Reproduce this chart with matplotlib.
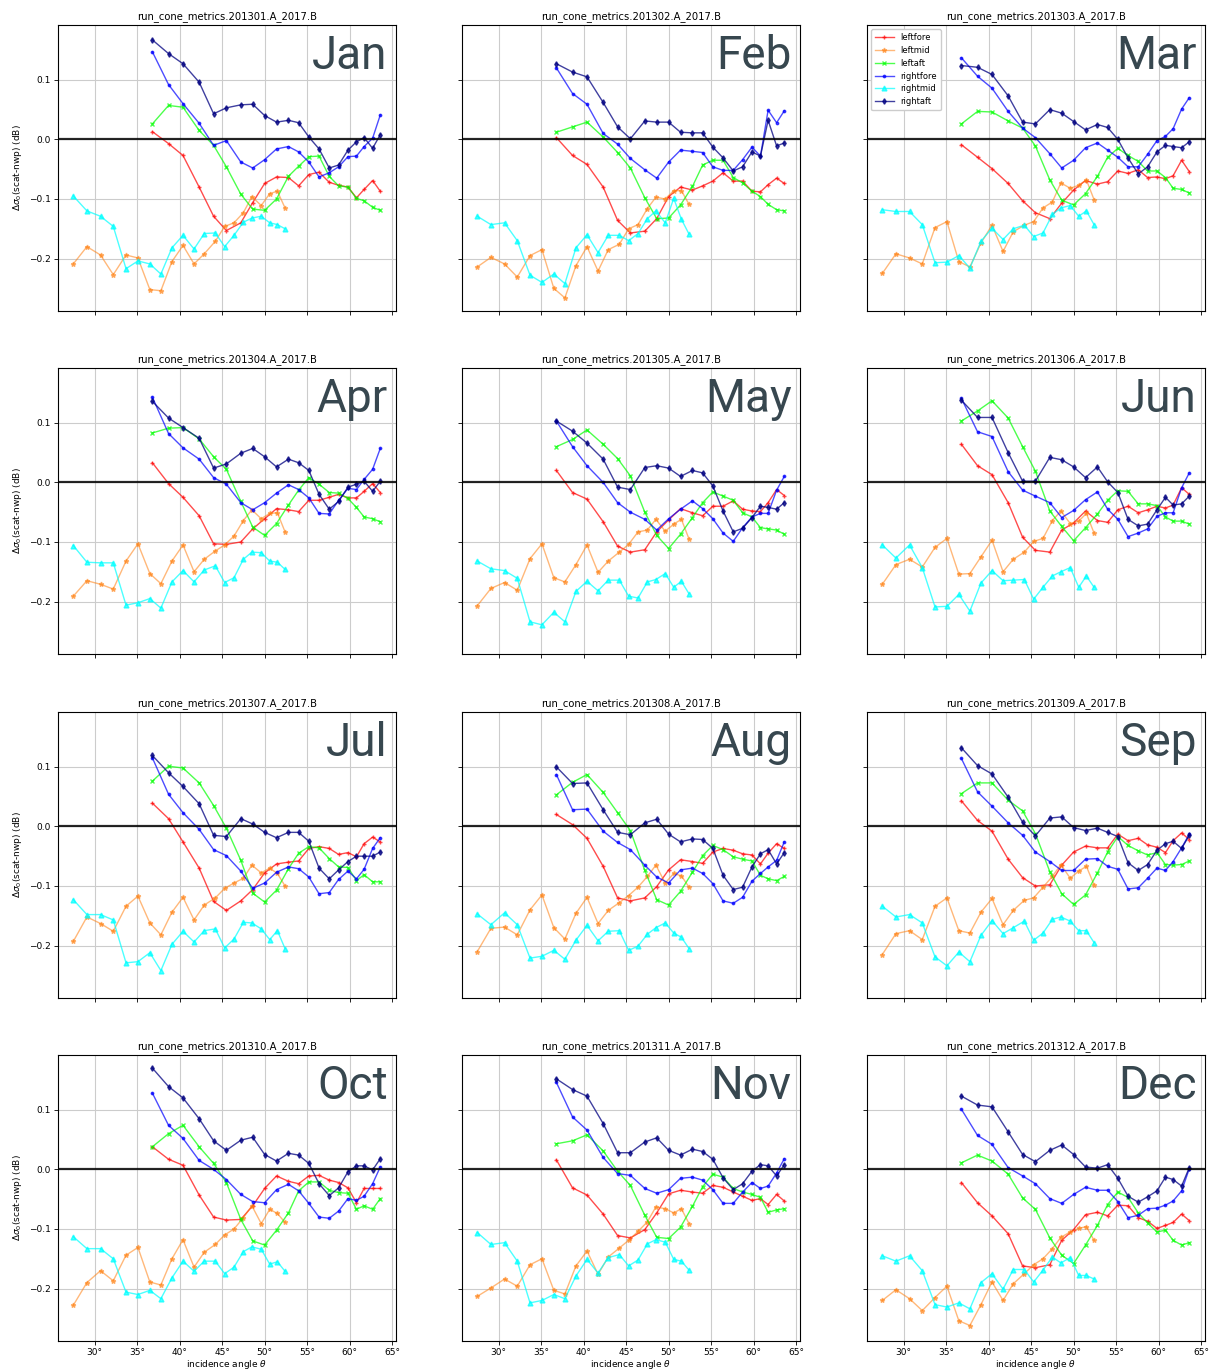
import matplotlib
matplotlib.use('Agg')
import matplotlib.pyplot as plt
from matplotlib.ticker import FuncFormatter

months = ['Jan', 'Feb', 'Mar', 'Apr', 'May', 'Jun',
          'Jul', 'Aug', 'Sep', 'Oct', 'Nov', 'Dec']
run_ids = ['201301', '201302', '201303', '201304', '201305', '201306',
           '201307', '201308', '201309', '201310', '201311', '201312']

# incidence angles of the cells (mid beams / fore-aft beams)
theta_mid = [27.5, 29.1, 30.7, 32.2, 33.7, 35.1, 36.5, 37.8, 39.1, 40.4, 41.7,
             42.9, 44.2, 45.3, 46.4, 47.5, 48.5, 49.6, 50.6, 51.5, 52.4]
theta_side = [36.8, 38.7, 40.4, 42.3, 44.0, 45.5, 47.2, 48.6, 50.0, 51.4, 52.8,
              54.0, 55.2, 56.4, 57.6, 58.7, 59.8, 60.8, 61.7, 62.7, 63.6]

leftfore = [
    [0.013, -0.007, -0.027, -0.080, -0.129, -0.153, -0.140, -0.106, -0.074, -0.063, -0.064, -0.078, -0.059, -0.055, -0.072, -0.077, -0.080, -0.098, -0.084, -0.069, -0.087],  # Jan
    [0.003, -0.027, -0.042, -0.080, -0.136, -0.157, -0.154, -0.133, -0.096, -0.080, -0.085, -0.078, -0.070, -0.056, -0.070, -0.070, -0.087, -0.088, -0.076, -0.065, -0.074],  # Feb
    [-0.009, -0.030, -0.049, -0.074, -0.103, -0.123, -0.133, -0.107, -0.085, -0.069, -0.075, -0.071, -0.053, -0.057, -0.051, -0.064, -0.063, -0.066, -0.061, -0.035, -0.054],  # Mar
    [0.033, -0.002, -0.025, -0.056, -0.103, -0.104, -0.100, -0.078, -0.061, -0.044, -0.046, -0.049, -0.030, -0.030, -0.025, -0.020, -0.026, -0.026, -0.015, -0.002, -0.017],  # Apr
    [0.020, -0.017, -0.028, -0.066, -0.107, -0.117, -0.113, -0.083, -0.063, -0.044, -0.051, -0.056, -0.040, -0.040, -0.031, -0.045, -0.048, -0.049, -0.034, -0.012, -0.022],  # May
    [0.064, 0.028, 0.013, -0.034, -0.092, -0.114, -0.117, -0.080, -0.068, -0.048, -0.064, -0.067, -0.046, -0.040, -0.051, -0.046, -0.040, -0.043, -0.038, -0.009, -0.020],  # Jun
    [0.039, 0.013, -0.026, -0.070, -0.126, -0.141, -0.125, -0.106, -0.078, -0.063, -0.060, -0.058, -0.037, -0.034, -0.037, -0.047, -0.044, -0.051, -0.029, -0.018, -0.026],  # Jul
    [0.020, 0.003, -0.020, -0.067, -0.120, -0.125, -0.120, -0.101, -0.073, -0.056, -0.059, -0.062, -0.043, -0.037, -0.040, -0.046, -0.048, -0.063, -0.045, -0.029, -0.037],  # Aug
    [0.043, 0.010, -0.008, -0.055, -0.086, -0.100, -0.098, -0.065, -0.043, -0.033, -0.036, -0.036, -0.013, -0.024, -0.020, -0.031, -0.035, -0.044, -0.024, -0.011, -0.022],  # Sep
    [0.038, 0.017, 0.007, -0.043, -0.080, -0.085, -0.084, -0.061, -0.032, -0.011, -0.020, -0.024, -0.011, -0.010, -0.018, -0.022, -0.031, -0.056, -0.032, -0.032, -0.032],  # Oct
    [0.016, -0.031, -0.043, -0.075, -0.111, -0.115, -0.101, -0.073, -0.041, -0.035, -0.038, -0.040, -0.027, -0.030, -0.038, -0.045, -0.052, -0.049, -0.059, -0.042, -0.053],  # Nov
    [-0.022, -0.056, -0.078, -0.108, -0.162, -0.165, -0.160, -0.119, -0.101, -0.076, -0.072, -0.078, -0.060, -0.061, -0.081, -0.087, -0.099, -0.094, -0.089, -0.075, -0.086],  # Dec
]

leftmid = [
    [-0.209, -0.180, -0.194, -0.227, -0.194, -0.199, -0.252, -0.254, -0.205, -0.178, -0.209, -0.192, -0.171, -0.146, -0.140, -0.123, -0.096, -0.111, -0.091, -0.087, -0.115],
    [-0.214, -0.198, -0.209, -0.231, -0.195, -0.185, -0.250, -0.266, -0.212, -0.180, -0.221, -0.185, -0.176, -0.150, -0.143, -0.116, -0.097, -0.100, -0.086, -0.086, -0.109],
    [-0.225, -0.192, -0.199, -0.209, -0.148, -0.138, -0.205, -0.214, -0.174, -0.144, -0.188, -0.155, -0.144, -0.138, -0.115, -0.105, -0.073, -0.082, -0.077, -0.068, -0.101],
    [-0.191, -0.165, -0.171, -0.179, -0.132, -0.103, -0.153, -0.170, -0.132, -0.105, -0.150, -0.129, -0.115, -0.105, -0.090, -0.064, -0.046, -0.061, -0.052, -0.051, -0.083],
    [-0.207, -0.178, -0.168, -0.181, -0.128, -0.103, -0.160, -0.167, -0.138, -0.105, -0.151, -0.132, -0.117, -0.104, -0.083, -0.080, -0.062, -0.082, -0.070, -0.062, -0.095],
    [-0.171, -0.138, -0.129, -0.142, -0.109, -0.094, -0.154, -0.153, -0.125, -0.097, -0.150, -0.129, -0.117, -0.099, -0.094, -0.064, -0.048, -0.069, -0.065, -0.052, -0.085],
    [-0.193, -0.152, -0.163, -0.176, -0.134, -0.117, -0.162, -0.182, -0.144, -0.119, -0.157, -0.132, -0.120, -0.104, -0.095, -0.087, -0.065, -0.078, -0.070, -0.079, -0.100],
    [-0.210, -0.171, -0.169, -0.182, -0.140, -0.115, -0.170, -0.189, -0.146, -0.119, -0.163, -0.141, -0.128, -0.116, -0.102, -0.084, -0.065, -0.095, -0.079, -0.083, -0.102],
    [-0.215, -0.180, -0.175, -0.190, -0.134, -0.120, -0.175, -0.179, -0.144, -0.121, -0.165, -0.141, -0.124, -0.120, -0.102, -0.084, -0.064, -0.087, -0.075, -0.067, -0.098],
    [-0.228, -0.190, -0.170, -0.187, -0.144, -0.131, -0.189, -0.194, -0.150, -0.118, -0.164, -0.139, -0.126, -0.110, -0.100, -0.081, -0.061, -0.091, -0.067, -0.074, -0.089],
    [-0.213, -0.199, -0.184, -0.196, -0.160, -0.150, -0.203, -0.209, -0.162, -0.137, -0.176, -0.147, -0.132, -0.119, -0.104, -0.088, -0.063, -0.066, -0.073, -0.066, -0.091],
    [-0.220, -0.202, -0.217, -0.237, -0.215, -0.196, -0.254, -0.262, -0.227, -0.189, -0.220, -0.192, -0.175, -0.160, -0.150, -0.133, -0.114, -0.105, -0.099, -0.096, -0.119],
]

leftaft = [
    [0.026, 0.057, 0.054, 0.015, -0.010, -0.046, -0.092, -0.117, -0.119, -0.100, -0.062, -0.045, -0.029, -0.028, -0.062, -0.078, -0.080, -0.099, -0.103, -0.114, -0.119],
    [0.012, 0.021, 0.029, 0.004, -0.022, -0.048, -0.098, -0.133, -0.132, -0.110, -0.079, -0.043, -0.035, -0.035, -0.064, -0.073, -0.087, -0.096, -0.109, -0.118, -0.120],
    [0.026, 0.047, 0.046, 0.031, 0.019, -0.011, -0.068, -0.102, -0.110, -0.091, -0.062, -0.030, -0.015, -0.027, -0.037, -0.053, -0.053, -0.064, -0.082, -0.084, -0.090],
    [0.083, 0.091, 0.092, 0.073, 0.043, 0.022, -0.032, -0.075, -0.089, -0.069, -0.038, -0.013, 0.008, -0.003, -0.017, -0.018, -0.027, -0.042, -0.058, -0.061, -0.066],
    [0.060, 0.072, 0.088, 0.064, 0.040, 0.011, -0.050, -0.089, -0.111, -0.087, -0.059, -0.034, -0.016, -0.023, -0.030, -0.051, -0.058, -0.076, -0.078, -0.080, -0.087],
    [0.103, 0.120, 0.137, 0.108, 0.060, 0.019, -0.048, -0.074, -0.098, -0.076, -0.053, -0.030, -0.014, -0.015, -0.036, -0.036, -0.039, -0.058, -0.065, -0.065, -0.070],
    [0.076, 0.101, 0.098, 0.073, 0.035, -0.003, -0.057, -0.112, -0.127, -0.107, -0.071, -0.045, -0.034, -0.036, -0.054, -0.068, -0.069, -0.091, -0.081, -0.093, -0.093],
    [0.053, 0.074, 0.087, 0.057, 0.023, -0.007, -0.074, -0.123, -0.132, -0.109, -0.077, -0.049, -0.032, -0.039, -0.051, -0.055, -0.058, -0.082, -0.088, -0.091, -0.084],
    [0.055, 0.073, 0.073, 0.044, 0.026, -0.012, -0.076, -0.113, -0.131, -0.115, -0.078, -0.043, -0.017, -0.032, -0.041, -0.048, -0.044, -0.064, -0.065, -0.064, -0.058],
    [0.038, 0.060, 0.074, 0.038, 0.010, -0.022, -0.084, -0.120, -0.127, -0.102, -0.073, -0.036, -0.021, -0.021, -0.035, -0.039, -0.040, -0.067, -0.061, -0.067, -0.049],
    [0.043, 0.048, 0.058, 0.031, -0.003, -0.027, -0.077, -0.114, -0.116, -0.097, -0.062, -0.029, -0.008, -0.013, -0.032, -0.038, -0.042, -0.047, -0.072, -0.068, -0.066],
    [0.011, 0.024, 0.014, -0.008, -0.048, -0.067, -0.115, -0.144, -0.158, -0.127, -0.094, -0.059, -0.038, -0.047, -0.073, -0.090, -0.105, -0.102, -0.119, -0.127, -0.123],
]

rightfore = [
    [0.147, 0.092, 0.060, 0.027, -0.010, -0.002, -0.038, -0.048, -0.034, -0.016, -0.012, -0.021, -0.038, -0.063, -0.056, -0.046, -0.029, -0.028, -0.012, 0.002, 0.041],
    [0.120, 0.077, 0.059, 0.010, -0.008, -0.032, -0.051, -0.065, -0.038, -0.018, -0.020, -0.022, -0.046, -0.052, -0.052, -0.034, -0.013, -0.028, 0.049, 0.028, 0.048],
    [0.137, 0.106, 0.086, 0.047, 0.019, 0.003, -0.024, -0.048, -0.035, -0.014, -0.006, -0.018, -0.030, -0.046, -0.046, -0.025, -0.002, 0.005, 0.018, 0.051, 0.070],
    [0.143, 0.082, 0.058, 0.039, 0.008, -0.003, -0.034, -0.046, -0.034, -0.018, -0.004, -0.012, -0.026, -0.052, -0.053, -0.030, -0.010, -0.012, 0.005, 0.022, 0.057],
    [0.103, 0.060, 0.028, 0.000, -0.034, -0.050, -0.062, -0.080, -0.061, -0.045, -0.031, -0.044, -0.061, -0.085, -0.099, -0.076, -0.058, -0.052, -0.052, -0.013, 0.010],
    [0.141, 0.085, 0.077, 0.018, -0.013, -0.023, -0.034, -0.059, -0.047, -0.029, -0.016, -0.045, -0.062, -0.091, -0.085, -0.078, -0.057, -0.051, -0.051, -0.009, 0.016],
    [0.115, 0.054, 0.023, -0.005, -0.039, -0.049, -0.075, -0.104, -0.095, -0.077, -0.068, -0.071, -0.085, -0.113, -0.111, -0.089, -0.075, -0.088, -0.072, -0.037, -0.019],
    [0.087, 0.028, 0.029, -0.008, -0.027, -0.039, -0.065, -0.085, -0.095, -0.073, -0.070, -0.079, -0.096, -0.125, -0.129, -0.119, -0.092, -0.079, -0.068, -0.057, -0.026],
    [0.114, 0.058, 0.034, 0.006, -0.015, -0.043, -0.059, -0.074, -0.074, -0.055, -0.054, -0.067, -0.072, -0.105, -0.103, -0.087, -0.070, -0.074, -0.059, -0.036, -0.013],
    [0.128, 0.074, 0.052, 0.015, 0.000, -0.017, -0.042, -0.054, -0.056, -0.034, -0.025, -0.036, -0.057, -0.080, -0.082, -0.070, -0.049, -0.052, -0.045, -0.024, 0.004],
    [0.146, 0.088, 0.066, 0.020, -0.007, -0.010, -0.032, -0.040, -0.034, -0.015, -0.013, -0.018, -0.034, -0.057, -0.057, -0.038, -0.022, -0.032, -0.028, -0.006, 0.018],
    [0.101, 0.057, 0.042, 0.003, -0.011, -0.024, -0.049, -0.057, -0.042, -0.030, -0.035, -0.035, -0.054, -0.081, -0.077, -0.066, -0.065, -0.060, -0.053, -0.036, 0.001],
]

rightmid = [
    [-0.095, -0.120, -0.129, -0.146, -0.217, -0.204, -0.209, -0.226, -0.182, -0.161, -0.184, -0.158, -0.157, -0.180, -0.161, -0.139, -0.132, -0.129, -0.140, -0.143, -0.150],
    [-0.129, -0.143, -0.140, -0.170, -0.228, -0.240, -0.226, -0.242, -0.182, -0.160, -0.190, -0.161, -0.161, -0.170, -0.158, -0.133, -0.120, -0.140, -0.099, -0.134, -0.159],
    [-0.118, -0.121, -0.121, -0.143, -0.207, -0.206, -0.195, -0.216, -0.171, -0.149, -0.168, -0.150, -0.144, -0.163, -0.157, -0.126, -0.115, -0.111, -0.129, -0.120, -0.143],
    [-0.106, -0.134, -0.135, -0.135, -0.206, -0.202, -0.195, -0.211, -0.167, -0.148, -0.167, -0.147, -0.140, -0.168, -0.160, -0.129, -0.117, -0.118, -0.132, -0.134, -0.146],
    [-0.132, -0.145, -0.148, -0.161, -0.234, -0.239, -0.218, -0.234, -0.183, -0.166, -0.182, -0.164, -0.164, -0.191, -0.194, -0.167, -0.163, -0.153, -0.176, -0.166, -0.187],
    [-0.105, -0.127, -0.105, -0.143, -0.209, -0.208, -0.188, -0.216, -0.169, -0.148, -0.165, -0.164, -0.163, -0.196, -0.176, -0.157, -0.150, -0.143, -0.176, -0.157, -0.176],
    [-0.123, -0.148, -0.148, -0.157, -0.229, -0.227, -0.212, -0.242, -0.198, -0.176, -0.194, -0.175, -0.172, -0.204, -0.189, -0.161, -0.162, -0.172, -0.190, -0.175, -0.205],
    [-0.147, -0.165, -0.145, -0.165, -0.221, -0.218, -0.208, -0.223, -0.191, -0.166, -0.192, -0.176, -0.175, -0.208, -0.201, -0.181, -0.170, -0.162, -0.179, -0.186, -0.205],
    [-0.134, -0.152, -0.148, -0.162, -0.219, -0.234, -0.211, -0.227, -0.183, -0.158, -0.180, -0.170, -0.159, -0.191, -0.179, -0.156, -0.152, -0.159, -0.175, -0.175, -0.195],
    [-0.113, -0.133, -0.133, -0.150, -0.206, -0.210, -0.203, -0.217, -0.182, -0.154, -0.171, -0.154, -0.154, -0.175, -0.164, -0.138, -0.130, -0.134, -0.159, -0.155, -0.171],
    [-0.106, -0.126, -0.123, -0.154, -0.224, -0.220, -0.210, -0.217, -0.179, -0.151, -0.174, -0.148, -0.143, -0.162, -0.152, -0.125, -0.118, -0.122, -0.151, -0.154, -0.169],
    [-0.145, -0.154, -0.145, -0.170, -0.227, -0.231, -0.224, -0.234, -0.190, -0.175, -0.201, -0.168, -0.168, -0.189, -0.169, -0.147, -0.157, -0.148, -0.178, -0.178, -0.184],
]

rightaft = [
    [0.167, 0.144, 0.127, 0.096, 0.043, 0.053, 0.058, 0.059, 0.040, 0.029, 0.032, 0.028, 0.004, -0.016, -0.048, -0.043, -0.018, -0.004, 0.003, -0.015, 0.008],
    [0.127, 0.113, 0.105, 0.062, 0.021, 0.001, 0.031, 0.029, 0.029, 0.012, 0.011, 0.011, -0.013, -0.031, -0.053, -0.046, -0.021, -0.028, 0.032, -0.011, -0.006],
    [0.124, 0.121, 0.109, 0.073, 0.029, 0.026, 0.050, 0.044, 0.030, 0.016, 0.025, 0.020, 0.000, -0.031, -0.058, -0.046, -0.021, -0.010, -0.012, -0.014, -0.004],
    [0.136, 0.108, 0.092, 0.074, 0.024, 0.031, 0.049, 0.057, 0.043, 0.026, 0.039, 0.033, 0.020, -0.020, -0.045, -0.032, -0.008, -0.003, 0.002, -0.015, 0.002],
    [0.103, 0.086, 0.066, 0.039, -0.008, -0.012, 0.025, 0.028, 0.024, 0.010, 0.020, 0.016, -0.006, -0.048, -0.083, -0.077, -0.059, -0.040, -0.042, -0.045, -0.034],
    [0.138, 0.109, 0.109, 0.050, 0.002, 0.002, 0.042, 0.038, 0.026, 0.008, 0.026, 0.001, -0.017, -0.062, -0.073, -0.070, -0.046, -0.025, -0.038, -0.036, -0.023],
    [0.119, 0.090, 0.067, 0.038, -0.015, -0.017, 0.013, 0.004, -0.010, -0.019, -0.010, -0.010, -0.025, -0.070, -0.088, -0.073, -0.059, -0.050, -0.050, -0.050, -0.043],
    [0.100, 0.072, 0.073, 0.028, -0.010, -0.014, 0.006, 0.012, -0.013, -0.026, -0.021, -0.022, -0.037, -0.082, -0.106, -0.102, -0.068, -0.046, -0.039, -0.063, -0.044],
    [0.132, 0.102, 0.088, 0.049, 0.007, -0.016, 0.014, 0.016, -0.002, -0.007, -0.003, -0.010, -0.017, -0.061, -0.074, -0.064, -0.040, -0.029, -0.025, -0.037, -0.015],
    [0.170, 0.139, 0.120, 0.085, 0.048, 0.032, 0.049, 0.054, 0.025, 0.014, 0.027, 0.024, 0.010, -0.024, -0.044, -0.031, -0.004, 0.006, 0.006, -0.001, 0.018],
    [0.152, 0.134, 0.123, 0.077, 0.028, 0.028, 0.046, 0.053, 0.032, 0.024, 0.034, 0.030, 0.017, -0.014, -0.034, -0.024, -0.003, 0.008, 0.006, -0.011, 0.008],
    [0.123, 0.108, 0.105, 0.063, 0.025, 0.013, 0.032, 0.041, 0.025, 0.004, 0.002, 0.008, -0.015, -0.045, -0.055, -0.046, -0.036, -0.013, -0.017, -0.028, 0.003],
]

# name, values, angles, colour, marker, marker size, alpha
series = [
    ('leftfore', leftfore, theta_side, 'red', '+', 3.5, 0.7),
    ('leftmid', leftmid, theta_mid, '#ff7f0e', '*', 3.5, 0.55),
    ('leftaft', leftaft, theta_side, 'lime', 'x', 3.5, 0.7),
    ('rightfore', rightfore, theta_side, 'blue', '.', 3.5, 0.7),
    ('rightmid', rightmid, theta_mid, 'cyan', '^', 3.5, 0.7),
    ('rightaft', rightaft, theta_side, 'navy', 'd', 2.8, 0.75),
]

W, H = 1217, 1372
fig = plt.figure(figsize=(W / 100, H / 100), dpi=100)

col_left = [58, 462, 867]
row_top = [25, 368, 712, 1055]
aw, ah = 338, 286

for i, mon in enumerate(months):
    r, c = divmod(i, 3)
    ax = fig.add_axes([col_left[c] / W, 1 - (row_top[r] + ah) / H, aw / W, ah / H])
    for name, data, th, col, mk, ms, al in series:
        ax.plot(th, data[i], color=col, marker=mk, ms=ms, lw=1.0, alpha=al,
                label=name)
    ax.axhline(0, color='black', lw=1.6, alpha=0.85)
    ax.set_xlim(25.7, 65.45)
    ax.set_ylim(-0.288, 0.192)
    ax.set_xticks([30, 35, 40, 45, 50, 55, 60, 65])
    ax.set_yticks([-0.2, -0.1, 0.0, 0.1])
    ax.xaxis.set_major_formatter(FuncFormatter(lambda v, p: '%d°' % v))
    ax.grid(True, color='#cccccc', lw=0.8)
    ax.set_axisbelow(True)
    ax.tick_params(labelsize=6.5, length=3, width=0.6, pad=2)
    for s in ax.spines.values():
        s.set_linewidth(0.8)
    ax.set_title('run_cone_metrics.%s.A_2017.B' % run_ids[i], fontsize=7.2, pad=4)
    if c == 0:
        ax.set_ylabel(r'$\Delta\sigma_0$(scat-nwp) (dB)', fontsize=6.5)
    else:
        ax.set_yticklabels([])
    if r == 3:
        ax.set_xlabel(r'incidence angle $\theta$', fontsize=6.5, labelpad=1)
    else:
        ax.set_xticklabels([])
    if mon == 'Mar':
        ax.legend(loc='upper left', fontsize=6, labelspacing=0.45,
                  handlelength=2.2, borderpad=0.5, framealpha=1)
    ax.text(0.975, 0.97, mon, transform=ax.transAxes, ha='right', va='top',
            fontsize=33, color='#37474f', family=['Roboto', 'DejaVu Sans'],
            zorder=10)

fig.savefig('out.png', dpi=100)
